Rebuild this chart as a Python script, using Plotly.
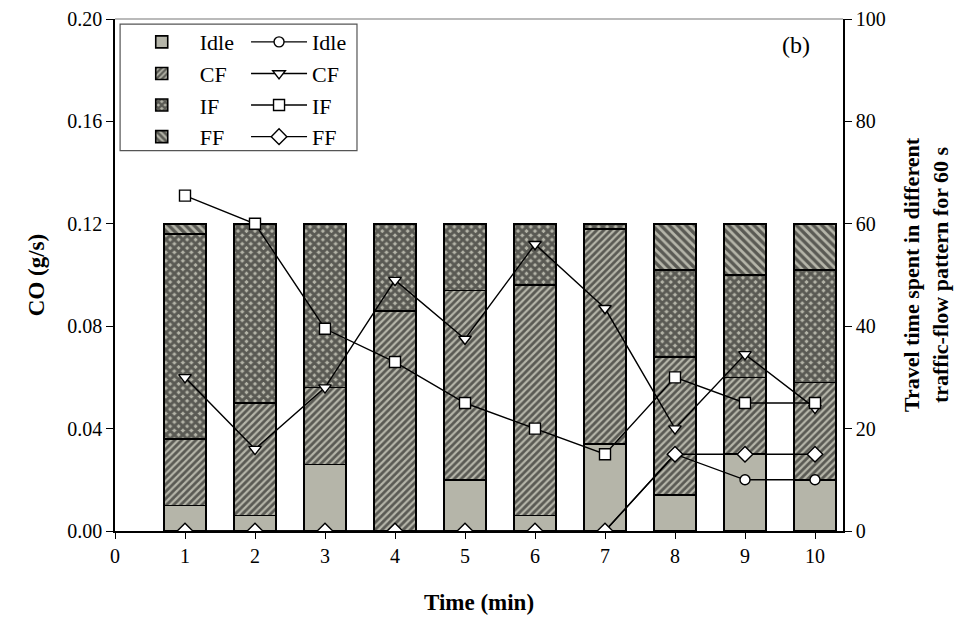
import plotly.graph_objects as go

# ---------------- data ----------------
minutes = [1, 2, 3, 4, 5, 6, 7, 8, 9, 10]
x_ticks = [0, 1, 2, 3, 4, 5, 6, 7, 8, 9, 10]
categories = ["Idle", "CF", "IF", "FF"]

# travel time (s) spent in each traffic-flow pattern (bars, right axis)
time_idle = [5, 3, 13, 0, 10, 3, 17, 7, 15, 10]
time_cf = [13, 22, 15, 43, 37, 45, 42, 27, 15, 19]
time_if = [40, 35, 32, 17, 13, 12, 1, 17, 20, 22]
time_ff = [2, 0, 0, 0, 0, 0, 0, 9, 10, 9]

# CO emission rate (g/s) per traffic-flow pattern (lines, left axis)
co_idle = [0, 0, 0, 0, 0, 0, 0, 0.030, 0.020, 0.020]
co_cf = [0.060, 0.032, 0.056, 0.098, 0.075, 0.112, 0.087, 0.040, 0.069, 0.048]
co_if = [0.131, 0.120, 0.079, 0.066, 0.050, 0.040, 0.030, 0.060, 0.050, 0.050]
co_ff = [0, 0, 0, 0, 0, 0, 0, 0.030, 0.030, 0.030]

left_ticks = [0.0, 0.04, 0.08, 0.12, 0.16, 0.20]
right_ticks = [0, 20, 40, 60, 80, 100]

# ---------------- styling ----------------
FONT = "Liberation Serif"
GRAY = "#b5b5a9"

bar_series = [time_idle, time_cf, time_if, time_ff]
bar_patterns = ["", "/", "x", "\\"]
bar_psize = [6, 5, 6, 6]
bar_psolid = [0.3, 0.55, 0.75, 0.55]

line_series = [co_idle, co_cf, co_if, co_ff]
line_symbols = ["circle", "triangle-down", "square", "diamond"]
line_msize = [10, 11, 11, 12]

fig = go.Figure()

for name, vals, pat, ps, sol in zip(categories, bar_series, bar_patterns, bar_psize, bar_psolid):
    fig.add_trace(go.Bar(
        x=minutes, y=vals, name=name, width=0.6,
        marker=dict(color=GRAY, line=dict(color="black", width=1.6),
                    pattern=dict(shape=pat, fgcolor="black", bgcolor=GRAY,
                                 size=ps, solidity=sol, fillmode="overlay")),
        yaxis="y", legend="legend", legendgroup="b" + name,
    ))

for name, vals, sym, ms in zip(categories, line_series, line_symbols, line_msize):
    fig.add_trace(go.Scatter(
        x=minutes, y=vals, name=name, mode="lines+markers",
        line=dict(color="black", width=1.4),
        marker=dict(symbol=sym, size=ms, color="white",
                    line=dict(color="black", width=1.4)),
        yaxis="y2", legend="legend2", legendgroup="l" + name,
    ))

tickfont = dict(family=FONT, size=20, color="black")
titlefont = dict(family=FONT, size=23, color="black")
rtitlefont = dict(family=FONT, size=22, color="black")
legfont = dict(family=FONT, size=22, color="black")

fig.update_layout(
    width=962, height=624,
    margin=dict(l=107, r=127, t=11, b=101),
    paper_bgcolor="white", plot_bgcolor="white",
    barmode="stack", bargap=0.4,
    font=dict(family=FONT, size=20, color="black"),
    xaxis=dict(
        range=[0, 10.4], tickvals=x_ticks, ticktext=[str(v) for v in x_ticks],
        ticks="outside", ticklen=6, tickwidth=1.3, tickcolor="black",
        showline=True, linecolor="black", linewidth=2,
        showgrid=False, zeroline=False, tickfont=tickfont, automargin=False,
        ticklabeloverflow="allow",
        title=dict(text="<b>Time (min)</b>", font=titlefont, standoff=28),
    ),
    yaxis=dict(
        side="right", range=[0, 100], tickvals=right_ticks,
        ticks="outside", ticklen=7, tickwidth=1.3, tickcolor="black",
        showline=True, linecolor="black", linewidth=1.5,
        showgrid=False, zeroline=False, tickfont=tickfont, automargin=False,
        ticklabeloverflow="allow",
        title=dict(text="<b>Travel time spent in different<br>traffic-flow pattern for 60 s</b>",
                   font=rtitlefont, standoff=19),
    ),
    yaxis2=dict(
        overlaying="y", side="left", range=[0, 0.2], tickvals=left_ticks,
        tickformat=".2f",
        ticks="outside", ticklen=7, tickwidth=1.3, tickcolor="black",
        showline=True, linecolor="black", linewidth=1.5,
        showgrid=False, zeroline=False, tickfont=tickfont, automargin=False,
        ticklabeloverflow="allow",
        title=dict(text="<b>CO (g/s)</b>", font=titlefont, standoff=16),
    ),
    legend=dict(
        x=0.012, y=0.996, xanchor="left", yanchor="top",
        bgcolor="rgba(0,0,0,0)", borderwidth=0, traceorder="grouped",
        tracegroupgap=0, itemwidth=66, font=legfont,
    ),
    legend2=dict(
        x=0.18, y=0.996, xanchor="left", yanchor="top",
        bgcolor="rgba(0,0,0,0)", borderwidth=0, traceorder="grouped",
        tracegroupgap=0, itemwidth=56, font=legfont,
    ),
    showlegend=True,
)

# legend frame and top frame line
fig.add_shape(type="rect", xref="paper", yref="paper",
              x0=0.007, x1=0.3324, y0=0.743, y1=0.99,
              line=dict(color="#555555", width=1.2), fillcolor="rgba(0,0,0,0)")
fig.add_shape(type="line", xref="paper", yref="paper",
              x0=0, x1=1, y0=1, y1=1, line=dict(color="#777777", width=1.2))

fig.add_annotation(text="(b)", xref="paper", yref="paper", x=0.935, y=0.949,
                   xanchor="center", yanchor="middle",
                   showarrow=False, font=dict(family=FONT, size=24, color="black"))

fig.write_html("out.html")
